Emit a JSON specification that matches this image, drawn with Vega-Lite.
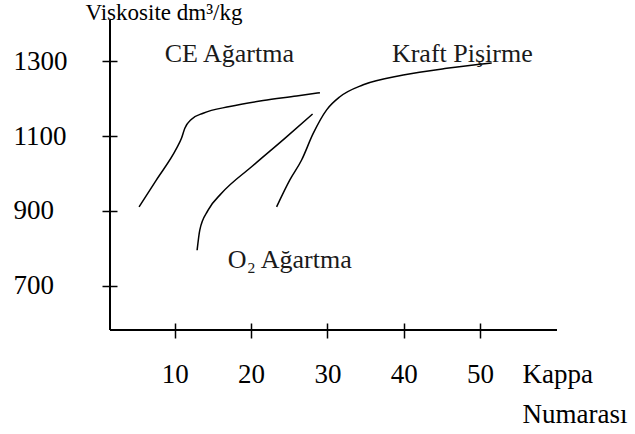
{
  "$schema": "https://vega.github.io/schema/vega-lite/v6.json",
  "autosize": "none",
  "width": 447,
  "height": 310,
  "padding": {"left": 110, "top": 20, "right": 78, "bottom": 104},
  "background": "white",
  "config": {
    "view": {"stroke": null},
    "font": "Liberation Serif",
    "axis": {"grid": false}
  },
  "datasets": {
    "curves": [
      {"series": "CE", "kappa": 5.31, "visc": 911},
      {"series": "CE", "kappa": 7.59, "visc": 983},
      {"series": "CE", "kappa": 10.22, "visc": 1067},
      {"series": "CE", "kappa": 10.87, "visc": 1094},
      {"series": "CE", "kappa": 11.31, "visc": 1121},
      {"series": "CE", "kappa": 12.19, "visc": 1145},
      {"series": "CE", "kappa": 13.71, "visc": 1161},
      {"series": "CE", "kappa": 17.21, "visc": 1179},
      {"series": "CE", "kappa": 21.58, "visc": 1195},
      {"series": "CE", "kappa": 25.96, "visc": 1207},
      {"series": "CE", "kappa": 29.02, "visc": 1216},
      {"series": "O2", "kappa": 12.92, "visc": 795},
      {"series": "O2", "kappa": 13.27, "visc": 849},
      {"series": "O2", "kappa": 14.36, "visc": 902},
      {"series": "O2", "kappa": 16.12, "visc": 947},
      {"series": "O2", "kappa": 20.06, "visc": 1018},
      {"series": "O2", "kappa": 24.42, "visc": 1094},
      {"series": "O2", "kappa": 28.06, "visc": 1159},
      {"series": "Kraft", "kappa": 23.34, "visc": 911},
      {"series": "Kraft", "kappa": 25.08, "visc": 983},
      {"series": "Kraft", "kappa": 26.62, "visc": 1036},
      {"series": "Kraft", "kappa": 28.14, "visc": 1107},
      {"series": "Kraft", "kappa": 29.9, "visc": 1170},
      {"series": "Kraft", "kappa": 31.64, "visc": 1205},
      {"series": "Kraft", "kappa": 34.7, "visc": 1237},
      {"series": "Kraft", "kappa": 39.94, "visc": 1263},
      {"series": "Kraft", "kappa": 45.64, "visc": 1281},
      {"series": "Kraft", "kappa": 51.54, "visc": 1295}
    ],
    "labels": [
      {"label": "CE Ağartma", "kappa": 8.68, "visc": 1298},
      {"label": "Kraft Pişirme", "kappa": 38.46, "visc": 1298},
      {"label": "O₂ Ağartma", "kappa": 16.95, "visc": 747}
    ],
    "frame": [
      {"kappa": 1.5, "visc": 582}
    ]
  },
  "encoding": {
    "x": {
      "field": "kappa", "type": "quantitative",
      "scale": {"domain": [1.5, 60.1], "nice": false, "zero": false},
      "axis": {
        "values": [10, 20, 30, 40, 50],
        "format": "d",
        "domain": false,
        "offset": -7,
        "tickSize": 15,
        "tickColor": "black",
        "tickWidth": 1.5,
        "labelFontSize": 27,
        "labelColor": "black",
        "labelBaseline": "alphabetic",
        "labelPadding": 44,
        "labelDx": -4,
        "labelFlush": false,
        "title": ["Kappa", "Numarası"],
        "titleFontSize": 27,
        "titleFontWeight": "normal",
        "titleColor": "black",
        "titleAlign": "left",
        "titleAnchor": "start",
        "titleBaseline": "alphabetic",
        "titleLineHeight": 40,
        "titleX": 412,
        "titleY": 59
      }
    },
    "y": {
      "field": "visc", "type": "quantitative",
      "scale": {"domain": [582, 1410], "nice": false, "zero": false},
      "axis": {
        "values": [700, 900, 1100, 1300],
        "format": "d",
        "domain": false,
        "offset": -7,
        "tickSize": 15,
        "tickColor": "black",
        "tickWidth": 1.5,
        "labelFontSize": 27,
        "labelColor": "black",
        "labelAlign": "left",
        "labelBaseline": "middle",
        "labelPadding": 89,
        "labelFlush": false,
        "title": "Viskosite dm³/kg",
        "titleFontSize": 23,
        "titleFontWeight": "normal",
        "titleColor": "black",
        "titleAngle": 0,
        "titleAlign": "left",
        "titleAnchor": "start",
        "titleBaseline": "alphabetic",
        "titleX": -32,
        "titleY": -1
      }
    }
  },
  "layer": [
    {
      "data": {"name": "curves"},
      "mark": {"type": "line", "interpolate": "monotone", "color": "black", "strokeWidth": 1.5},
      "encoding": {
        "detail": {"field": "series"}
      }
    },
    {
      "data": {"name": "labels"},
      "mark": {"type": "text", "align": "left", "baseline": "alphabetic", "fontSize": 26, "color": "#1a1a1a", "font": "Liberation Serif"},
      "encoding": {
        "text": {"field": "label"}
      }
    },
    {
      "data": {"name": "frame"},
      "mark": {"type": "rule", "color": "black", "strokeWidth": 2},
      "encoding": {"y": null}
    },
    {
      "data": {"name": "frame"},
      "mark": {"type": "rule", "color": "black", "strokeWidth": 2},
      "encoding": {"x": null}
    }
  ]
}
